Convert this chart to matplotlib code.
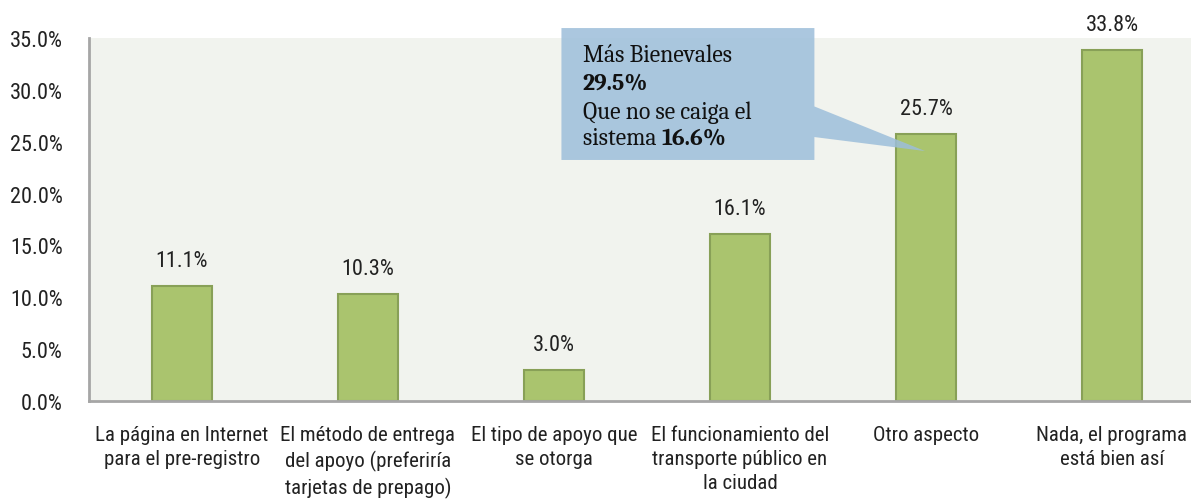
import matplotlib
matplotlib.use("Agg")
import matplotlib.pyplot as plt
from matplotlib.patches import Polygon

categories = [
    "La página en Internet\npara el pre-registro",
    "El método de entrega\ndel apoyo (preferiría\ntarjetas de prepago)",
    "El tipo de apoyo que\nse otorga",
    "El funcionamiento del\ntransporte público en\nla ciudad",
    "Otro aspecto",
    "Nada, el programa\nestá bien así",
]
values = [11.1, 10.3, 3.0, 16.1, 25.7, 33.8]
yticks = [0, 5, 10, 15, 20, 25, 30, 35]

cond = ["Roboto Condensed", "DejaVu Sans"]
serif = ["Caladea", "DejaVu Serif"]
FS = 16

W, H = 1191, 502
fig = plt.figure(figsize=(W / 100, H / 100), dpi=100)
fig.patch.set_facecolor("white")
ax = fig.add_axes([89 / W, (H - 402) / H, 1116 / W, 363 / H])
ax.set_facecolor("#F1F3EE")

x = list(range(len(values)))
ax.bar(x, values, width=0.32, color="#AAC46E", edgecolor="#88A057", linewidth=1.5, zorder=2)
ax.set_xlim(-0.5, 5.5)
ax.set_ylim(0, 35)
ax.set_yticks(yticks)
ax.set_yticklabels([f"{v:.1f}%" for v in yticks], fontfamily=cond, fontsize=FS, color="#222222")
ax.set_xticks(x)
ax.set_xticklabels(categories, fontfamily=cond, fontsize=15, color="#222222", linespacing=1.36)
ax.tick_params(axis="both", length=0)
ax.tick_params(axis="y", pad=19)
ax.tick_params(axis="x", pad=17)
for s in ["top", "right"]:
    ax.spines[s].set_visible(False)
ax.spines["left"].set_color("#A6A6A6")
ax.spines["left"].set_linewidth(2)
ax.spines["bottom"].set_color("#A6A6A6")
ax.spines["bottom"].set_linewidth(2)

for xi, v in zip(x, values):
    ax.annotate(f"{v:.1f}%", (xi, v), xytext=(0, 11), textcoords="offset points",
                ha="center", va="bottom", fontfamily=cond, fontsize=FS, color="#222222")

# callout
poly = Polygon([(2.04, 35.96), (3.40, 35.96), (3.40, 28.4), (3.995, 24.1), (3.40, 25.45),
                (3.40, 23.24), (2.04, 23.24)], closed=True, facecolor="#9DBEDA",
               edgecolor="none", alpha=0.85, clip_on=False, zorder=5)
ax.add_patch(poly)
tx = 2.155
kw = dict(fontfamily=serif, fontsize=17, va="center", zorder=6, color="#111111")
ax.text(tx, 33.4, "Más Bienevales", **kw)
ax.text(tx, 30.7, "29.5%", fontweight="bold", **kw)
ax.text(tx, 27.9, "Que no se caiga el", **kw)
t = ax.text(tx, 25.4, "sistema ", **kw)
ax.annotate("16.6%", xy=(1, 0.5), xycoords=t, ha="left", fontweight="bold", **kw)

fig.savefig("out.png", dpi=100)
